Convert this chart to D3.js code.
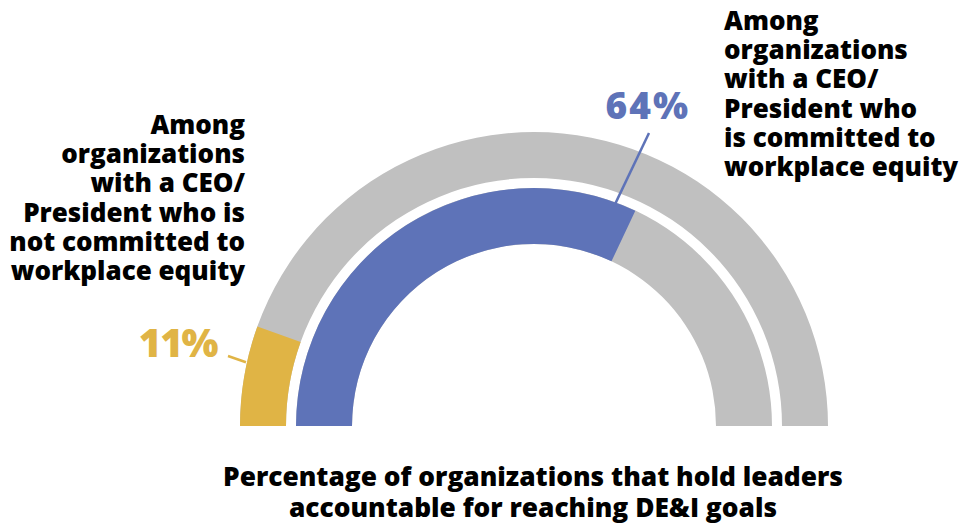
<!DOCTYPE html>
<html>
<head>
<meta charset="utf-8">
<script src="https://cdn.jsdelivr.net/npm/d3@7"></script>
<style>
  html, body { margin: 0; padding: 0; background: #fff; }
  svg { display: block; }
  text { font-family: "Open Sans", Lato, sans-serif; font-weight: 800; }
</style>
</head>
<body>
<svg id="chart" width="962" height="524"></svg>
<script>
// Share of organizations holding leaders accountable for DE&I goals
const groups = ["not committed", "committed"];
const values = [11, 64];
const valueLabels = ["11%", "64%"];
const groupLabels = [
  ["Among", "organizations", "with a CEO/", "President who is", "not committed to", "workplace equity"],
  ["Among", "organizations", "with a CEO/", "President who", "is committed to", "workplace equity"]
];
const titleLines = [
  "Percentage of organizations that hold leaders",
  "accountable for reaching DE&I goals"
];

const colors = ["#e0b445", "#5e73b8"];
const trackColor = "#c0c0c0";

const svg = d3.select("#chart");
const cx = 534, cy = 426;

// Rings: outer for "not committed", inner for "committed"
const rings = [
  { inner: 248, outer: 294 },
  { inner: 182, outer: 238 }
];

const angle = d3.scaleLinear().domain([0, 100]).range([-Math.PI / 2, Math.PI / 2]);
const arc = d3.arc();

const g = svg.append("g").attr("transform", `translate(${cx},${cy})`);

groups.forEach((grp, i) => {
  const r = rings[i];
  g.append("path")
    .attr("d", arc({ innerRadius: r.inner, outerRadius: r.outer, startAngle: angle(0), endAngle: angle(100) }))
    .attr("fill", trackColor);
  g.append("path")
    .attr("d", arc({ innerRadius: r.inner, outerRadius: r.outer, startAngle: angle(0), endAngle: angle(values[i]) }))
    .attr("fill", colors[i]);
});

// polar helper: value on the gauge scale + radius -> page point
function polar(v, r) {
  const a = angle(v);
  return [cx + r * Math.sin(a), cy - r * Math.cos(a)];
}

// Leader lines from value labels to their rings
const leaders = [
  { v: values[0] * 0.63, r: 295, end: [228, 356] },
  { v: values[1] * 0.955, r: 234, end: [649, 133] }
];
leaders.forEach((l, i) => {
  const p = polar(l.v, l.r);
  svg.append("line")
    .attr("x1", p[0]).attr("y1", p[1])
    .attr("x2", l.end[0]).attr("y2", l.end[1])
    .attr("stroke", colors[i]).attr("stroke-width", 2.5);
});

// Value labels
svg.append("text").attr("x", 217).attr("y", 357).attr("text-anchor", "end")
  .attr("font-size", 39).attr("letter-spacing", -1.5).attr("fill", colors[0]).text(valueLabels[0]);
svg.append("text").attr("x", 690).attr("y", 119).attr("text-anchor", "end")
  .attr("font-size", 37).attr("letter-spacing", 2).attr("fill", colors[1]).text(valueLabels[1]);

// Group descriptions
const lh = 29.2;
const left = svg.append("text").attr("text-anchor", "end").attr("font-size", 26).attr("fill", "#000");
groupLabels[0].forEach((t, k) => left.append("tspan").attr("x", 245).attr("y", 134 + k * lh).text(t));
const right = svg.append("text").attr("text-anchor", "start").attr("font-size", 26).attr("fill", "#000");
groupLabels[1].forEach((t, k) => right.append("tspan").attr("x", 724).attr("y", 30 + k * lh).text(t));

// Title
const title = svg.append("text").attr("text-anchor", "middle").attr("font-size", 26.3).attr("fill", "#000");
titleLines.forEach((t, k) => title.append("tspan").attr("x", 533).attr("y", 486 + k * 30.5).text(t));
</script>
</body>
</html>
